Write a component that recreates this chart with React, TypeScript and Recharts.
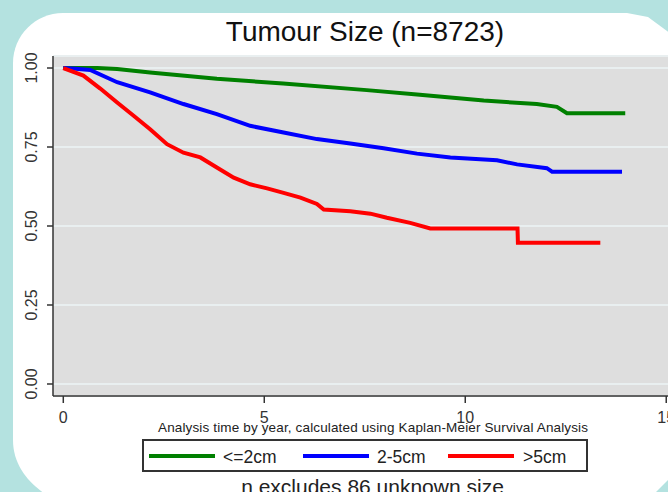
import React from 'react';
import { ComposedChart, Line, XAxis, YAxis, CartesianGrid } from 'recharts';

// ---- data (time in years, survival probability) ----
const greenTimes = [0, 0.85, 1.34, 2.16, 3.82, 5.47, 7.55, 8.8, 10.46, 11.78, 12.28, 12.53, 13.98];
const greenSurv = [1.0, 1.0, 0.997, 0.986, 0.966, 0.951, 0.93, 0.916, 0.897, 0.886, 0.877, 0.857, 0.857];

const blueTimes = [0, 0.3, 0.67, 1.34, 2.16, 2.99, 3.82, 4.65, 5.48, 6.31, 7.14, 7.97, 8.8, 9.63, 10.79, 11.29, 12.03, 12.16, 13.9];
const blueSurv = [1.0, 0.998, 0.994, 0.955, 0.923, 0.886, 0.854, 0.817, 0.796, 0.775, 0.761, 0.746, 0.729, 0.717, 0.708, 0.695, 0.683, 0.672, 0.672];

const redTimes = [0, 0.5, 0.92, 1.34, 1.75, 2.16, 2.58, 2.99, 3.41, 3.82, 4.24, 4.65, 5.07, 5.48, 5.9, 6.31, 6.48, 7.14, 7.64, 8.05, 8.63, 9.13, 11.3, 11.31, 13.36];
const redSurv = [1.0, 0.976, 0.935, 0.891, 0.849, 0.806, 0.759, 0.732, 0.717, 0.685, 0.653, 0.632, 0.619, 0.605, 0.59, 0.57, 0.552, 0.547, 0.539, 0.526, 0.51, 0.492, 0.492, 0.447, 0.447];

const seriesNames = ['<=2cm', '2-5cm', '>5cm'];
const seriesColors = ['#008000', '#0000ff', '#ff0000'];
const X_TICKS = [0, 5, 10, 15];
const Y_TICKS = [0, 0.25, 0.5, 0.75, 1];

const TITLE = 'Tumour Size (n=8723)';
const X_LABEL = 'Analysis time by year, calculated using Kaplan-Meier Survival Analysis';
const FOOTNOTE = 'n excludes 86 unknown size';

const toRows = (ts: number[], ss: number[]) => ts.map((t, i) => ({ t, s: ss[i] }));
const seriesData = [toRows(greenTimes, greenSurv), toRows(blueTimes, blueSurv), toRows(redTimes, redSurv)];

const FONT = '"Liberation Sans", Arial, Helvetica, sans-serif';
const NARROW = '"Liberation Sans Narrow", "Arial Narrow", "Liberation Sans", Arial, sans-serif';

const YTick = (props: any) => {
  const { x, y, payload } = props;
  const bx = x - 8;
  return (
    <text
      x={bx}
      y={y}
      transform={`rotate(-90, ${bx}, ${y})`}
      textAnchor="middle"
      fontSize={16}
      fontFamily={FONT}
      fill="#333"
    >
      {Number(payload.value).toFixed(2)}
    </text>
  );
};

// legend layout (positions of each item)
const legendLineX = [149, 303, 448];
const legendTextX = [223, 377, 523];

export default function App() {
  return (
    <div
      style={{
        position: 'fixed',
        left: 0,
        top: 0,
        width: 668,
        height: 492,
        overflow: 'hidden',
        background: '#b4e2e0',
        fontFamily: FONT,
      }}
    >
      <svg width={668} height={492} style={{ position: 'absolute', left: 0, top: 0 }}>
        <path
          d="M 13 440 L 13 63 C 13 35.4 35.4 13 63 13 L 627 13 L 648 17 L 690 48 L 690 458 L 645 503 L 60 503 C 35 490 13 470 13 440 Z"
          fill="#ffffff"
        />
      </svg>
      <div style={{ position: 'absolute', left: 0, top: 0 }}>
        <ComposedChart width={700} height={492} margin={{ top: 56, right: 0, bottom: 0, left: 0 }}>
          <CartesianGrid vertical={false} fill="#dedede" stroke="#e9eff0" strokeWidth={2} />
          <XAxis
            type="number"
            dataKey="t"
            domain={[-0.256, 15.84]}
            ticks={X_TICKS}
            allowDataOverflow
            interval={0}
            height={96}
            tickSize={7}
            tickMargin={9}
            axisLine={{ stroke: '#333', strokeWidth: 1.5 }}
            tickLine={{ stroke: '#333', strokeWidth: 1.5 }}
            tick={{ fontSize: 16, fill: '#333', fontFamily: FONT }}
          />
          <YAxis
            type="number"
            domain={[-0.038, 1.038]}
            ticks={Y_TICKS}
            allowDataOverflow
            interval={0}
            width={53}
            tickSize={6}
            tickMargin={2}
            axisLine={{ stroke: '#333', strokeWidth: 1.5 }}
            tickLine={{ stroke: '#333', strokeWidth: 1.5 }}
            tick={<YTick />}
          />
          {seriesData.map((d, i) => (
            <Line
              key={seriesNames[i]}
              name={seriesNames[i]}
              data={d}
              dataKey="s"
              type="linear"
              stroke={seriesColors[i]}
              strokeWidth={4}
              dot={false}
              activeDot={false}
              isAnimationActive={false}
            />
          ))}
        </ComposedChart>
      </div>
      <svg width={668} height={492} style={{ position: 'absolute', left: 0, top: 0 }}>
        <text x={365} y={41} fontSize={28} textAnchor="middle" fill="#111" fontFamily={FONT}>
          {TITLE}
        </text>
        <text
          x={373}
          y={432}
          fontSize={13.5}
          textAnchor="middle"
          textLength={430}
          lengthAdjust="spacing"
          fill="#222"
          fontFamily={NARROW}
        >
          {X_LABEL}
        </text>
        <rect x={143} y={440} width={444} height={31} fill="#ffffff" stroke="#333" strokeWidth={2} />
        {seriesNames.map((n, i) => (
          <g key={n}>
            <line
              x1={legendLineX[i]}
              x2={legendLineX[i] + 66}
              y1={456}
              y2={456}
              stroke={seriesColors[i]}
              strokeWidth={4}
            />
            <text x={legendTextX[i]} y={463} fontSize={17.5} fill="#222" fontFamily={FONT}>
              {n}
            </text>
          </g>
        ))}
        <text x={372.5} y={494} fontSize={21} textAnchor="middle" fill="#222" fontFamily={FONT}>
          {FOOTNOTE}
        </text>
      </svg>
    </div>
  );
}
